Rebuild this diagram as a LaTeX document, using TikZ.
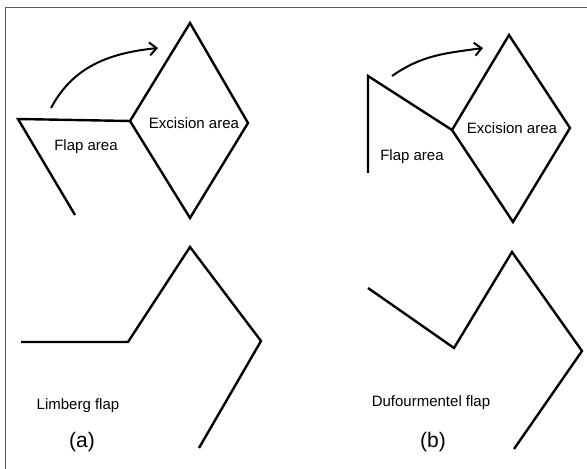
\documentclass[tikz,border=0pt]{standalone}
\usepackage{fontspec}
\setmainfont{Liberation Sans}
\usetikzlibrary{arrows.meta}

\tikzset{
  cut/.style = {line width = 2.4pt, line join = miter},
  label text/.style = {font = \fontsize{15}{18}\selectfont, inner sep = 0pt},
  panel text/.style = {font = \fontsize{21}{24}\selectfont, inner sep = 0pt},
  move/.style = {line width = 2pt, -{Straight Barb[length = 7pt, width = 13pt, line width = 2pt]}}
}

\begin{document}
\begin{tikzpicture}[x = 1pt, y = 1pt]
  \useasboundingbox (0, 0) rectangle (587, 469);

  % frame
  \draw[gray!70!black, line width = .8pt] (5, 0) -- (5, 462) -- (587, 462);

  % (a) Limberg, before
  \coordinate (LT) at (190, 446);
  \coordinate (LL) at (130, 348);
  \coordinate (LR) at (248, 346);
  \coordinate (LB) at (190, 251);
  \coordinate (LF) at (18, 350);
  \coordinate (LE) at (75, 254);

  \draw[cut] (LT) -- (LR) -- (LB) -- (LL) -- cycle;
  \draw[cut] (LL) -- (LF) -- (LE);
  \draw[move] (51, 361) coordinate (LS) to[out = 62, in = 186] (158, 421) coordinate (LA);

  \node[label text] (excA) at (194, 346) {Excision area};
  \node[label text] (flapA) at (86, 322) {Flap area};

  % (b) Dufourmentel, before
  \coordinate (DT) at (509, 434);
  \coordinate (DL) at (452, 339);
  \coordinate (DR) at (570, 341);
  \coordinate (DB) at (513, 247);
  \coordinate (DF) at (368, 393);
  \coordinate (DE) at (368, 296);

  \draw[cut] (DT) -- (DR) -- (DB) -- (DL) -- cycle;
  \draw[cut] (DL) -- (DF) -- (DE);
  \draw[move] (392, 393) coordinate (DS) to[out = 35, in = 188] (483, 421) coordinate (DA);

  \node[label text] (excB) at (512, 341) {Excision area};
  \node[label text] (flapB) at (412, 312) {Flap area};

  % after closure
  \draw[cut] (21, 127) -- (128, 127) -- (190, 222) -- (261, 128) -- (199, 21);
  \draw[cut] (368, 181) -- (454, 121) -- (512, 217) -- (582, 118) -- (514, 20);

  \node[label text] (nameA) at (78, 63) {Limberg flap};
  \node[label text] (nameB) at (431, 66) {Dufourmentel flap};
  \node[panel text] (capA) at (82, 27) {(a)};
  \node[panel text] (capB) at (433, 27) {(b)};
\end{tikzpicture}
\end{document}
